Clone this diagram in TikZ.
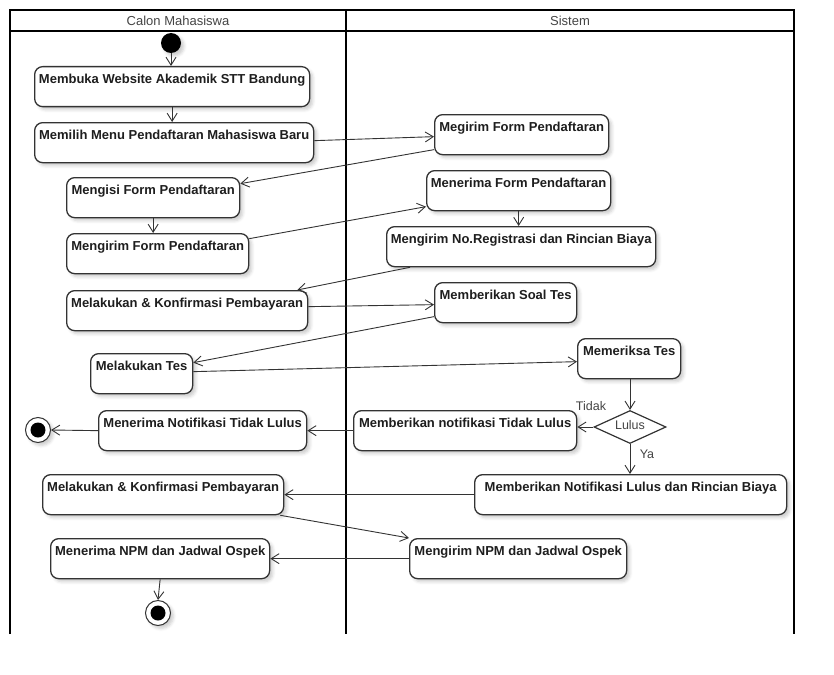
\documentclass[tikz,border=0pt]{standalone}
\usepackage{fontspec}
\setmainfont{Liberation Sans}
\usetikzlibrary{arrows.meta,shapes.geometric,shadows.blur,calc}
\definecolor{ink}{HTML}{333333}
\definecolor{txt}{HTML}{1E1E1E}
\definecolor{lbl}{HTML}{444444}
\begin{document}
\begin{tikzpicture}[x=1pt,y=-1pt,
  softshadow/.style={blur shadow={shadow xshift=3pt, shadow yshift=-3pt,
      shadow blur radius=3pt, shadow opacity=20}},
  act/.style={draw=ink, line width=1.3pt, rounded corners=8pt, fill=white,
      anchor=north west, inner xsep=3pt, inner ysep=7pt,
      text height=10pt, text depth=16pt, minimum height=40pt,
      font=\fontsize{13}{15}\selectfont\bfseries, text=txt, softshadow},
  flow/.style={draw=ink, line width=0.9pt, -{Straight Barb[length=8pt,width=10pt]}},
  lane/.style={draw=black, line width=2pt},
  lanehead/.style={font=\fontsize{13}{15}\selectfont, text=lbl},
  guard/.style={font=\fontsize{12.5}{14}\selectfont, text=lbl},
  choice/.style={shape=diamond, draw=ink, line width=1.2pt, fill=white,
      minimum width=72pt, minimum height=33pt, inner sep=0pt, aspect=2.2,
      text height=8pt, text depth=4pt,
      font=\fontsize{12.5}{14}\selectfont, text=lbl},
  initial/.style={circle, fill=black, minimum size=20pt, inner sep=0pt, softshadow},
  final/.style={circle, draw=ink, line width=1pt, fill=white, minimum size=25pt,
      inner sep=0pt, softshadow},
]
\useasboundingbox (0,0) rectangle (834,674);

% swimlanes
\draw[lane] (10,634) -- (10,10) -- (794,10) -- (794,634);
\draw[lane] (10,31) -- (794,31);
\draw[lane] (346,10) -- (346,634);
\node[lanehead] (h1) at (178,21) {Calon Mahasiswa};
\node[lanehead] (h2) at (570,21) {Sistem};

% start and end points
\node[initial] (start) at (171,43) {};
\node[final] (end1) at (38,430) {};
\fill[black] (end1.center) circle (7.5pt);
\node[final] (end2) at (158,613) {};
\fill[black] (end2.center) circle (7.5pt);

% actions
\node[act, minimum width=275pt] (b1) at (34,66) {Membuka Website Akademik STT Bandung};
\node[act, minimum width=279pt] (b2) at (34,122) {Memilih Menu Pendaftaran Mahasiswa Baru};
\node[act, minimum width=174pt] (b3) at (434,114) {Megirim Form Pendaftaran};
\node[act, minimum width=173pt] (b4) at (66,177) {Mengisi Form Pendaftaran};
\node[act, minimum width=182pt] (b5) at (66,233) {Mengirim Form Pendaftaran};
\node[act, minimum width=184pt] (b6) at (426,170) {Menerima Form Pendaftaran};
\node[act, minimum width=269pt] (b7) at (386,226) {Mengirim No.Registrasi dan Rincian Biaya};
\node[act, minimum width=241pt] (b8) at (66,290) {Melakukan \& Konfirmasi Pembayaran};
\node[act, minimum width=142pt] (b9) at (434,282) {Memberikan Soal Tes};
\node[act, minimum width=102pt] (b10) at (90,353) {Melakukan Tes};
\node[act, minimum width=103pt] (b11) at (577,338) {Memeriksa Tes};
\node[choice] (dec) at (630,427) {Lulus};
\node[act, minimum width=223pt] (b13) at (353,410) {Memberikan notifikasi Tidak Lulus};
\node[act, minimum width=208pt] (b14) at (98,410) {Menerima Notifikasi Tidak Lulus};
\node[act, minimum width=241pt] (b16) at (42,474) {Melakukan \& Konfirmasi Pembayaran};
\node[act, minimum width=312pt] (b17) at (474,474) {Memberikan Notifikasi Lulus dan Rincian Biaya};
\node[act, minimum width=217pt] (b18) at (409,538) {Mengirim NPM dan Jadwal Ospek};
\node[act, minimum width=219pt] (b19) at (50,538) {Menerima NPM dan Jadwal Ospek};

% guards
\node[guard] (gno) at (591,406) {Tidak};
\node[guard] (gyes) at (647,454) {Ya};

% control flow
\draw[flow] (start.south) -- (start.south |- b1.north);
\draw[flow] (b1.south) -- (b1.south |- b2.north);
\draw[flow] ([yshift=2pt]b2.east) -- ([yshift=-2pt]b3.west);
\draw[flow] ([yshift=-15pt]b3.west) -- ([yshift=14pt]b4.east);
\draw[flow] (b4.south) -- (b4.south |- b5.north);
\draw[flow] ([yshift=15pt]b5.east) -- ([yshift=-16pt]b6.west);
\draw[flow] (b6.south) -- (b6.south |- b7.north);
\draw[flow] ([xshift=24pt]b7.south west) -- ([xshift=-11pt]b8.north east);
\draw[flow] ([yshift=4pt]b8.east) -- ([yshift=-2pt]b9.west);
\draw[flow] ([yshift=-14pt]b9.west) -- ([yshift=11pt]b10.east);
\draw[flow] ([yshift=2pt]b10.east) -- ([yshift=-3pt]b11.west);
\draw[flow] (dec.north |- b11.south) -- (dec.north);
\draw[flow] (dec.west) -- (dec.west -| b13.east);
\draw[flow] (dec.south) -- (dec.south |- b17.north);
\draw[flow] (b13.west) -- (b14.east);
\draw[flow] (b14.west) -- (end1.east);
\draw[flow] (b17.west) -- (b16.east);
\draw[flow] ([xshift=-4pt]b16.south east) -- (b18.north west);
\draw[flow] (b18.west) -- (b19.east);
\draw[flow] (b19.south) -- (end2.north);
\end{tikzpicture}
\end{document}
